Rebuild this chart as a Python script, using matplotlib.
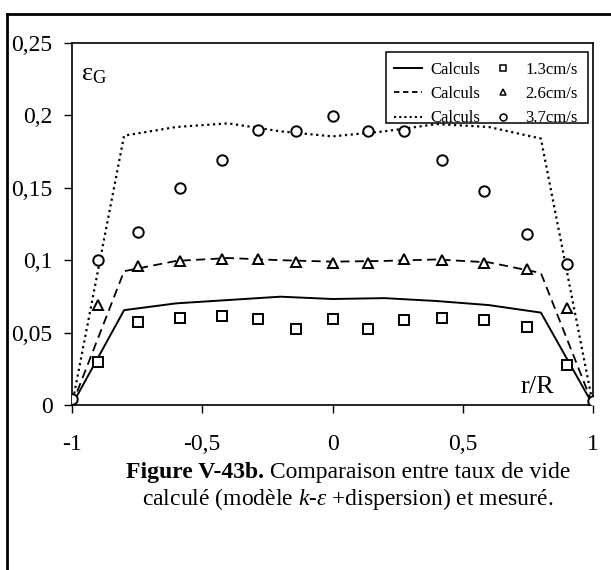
import numpy as np
import matplotlib
matplotlib.use("Agg")
import matplotlib.pyplot as plt
from matplotlib.lines import Line2D
from matplotlib.patches import Rectangle

plt.rcParams['font.family'] = ['Liberation Serif', 'DejaVu Serif']
plt.rcParams['mathtext.fontset'] = 'custom'
plt.rcParams['mathtext.rm'] = 'Liberation Serif'
plt.rcParams['mathtext.it'] = 'Liberation Serif:italic'

# valeurs
r_calc = [-1, -0.8, -0.6, -0.4, -0.2, 0, 0.2, 0.4, 0.6, 0.8, 1]
calc_13 = [0, 0.0655, 0.0702, 0.0725, 0.0748, 0.0732, 0.0738, 0.0718, 0.069, 0.0638, 0]
calc_26 = [0, 0.0924, 0.0995, 0.1015, 0.100, 0.099, 0.0995, 0.1005, 0.0985, 0.0912, 0]
calc_37 = [0, 0.186, 0.192, 0.1945, 0.189, 0.1855, 0.189, 0.194, 0.192, 0.184, 0]

r_mes = [-0.9, -0.745, -0.585, -0.425, -0.285, -0.14, 0, 0.135, 0.275, 0.42, 0.58, 0.745, 0.9]
mes_13 = [0.030, 0.057, 0.0598, 0.0614, 0.0593, 0.0524, 0.0591, 0.0526, 0.0586, 0.0598, 0.0586, 0.054, 0.0276]
mes_26 = [0.0694, 0.096, 0.0995, 0.1005, 0.101, 0.0989, 0.0982, 0.0984, 0.1005, 0.100, 0.0982, 0.0936, 0.0667]
r_mes_37 = [-1] + r_mes + [1]
mes_37 = [0.004, 0.100, 0.1195, 0.150, 0.1694, 0.1897, 0.189, 0.1993, 0.189, 0.189, 0.169, 0.148, 0.118, 0.0977, 0.003]

xticks = [-1, -0.5, 0, 0.5, 1]
xlabels = ['-1', '-0,5', '0', '0,5', '1']
yticks = [0, 0.05, 0.1, 0.15, 0.2, 0.25]
ylabels = ['0', '0,05', '0,1', '0,15', '0,2', '0,25']

fig = plt.figure(figsize=(6.11, 5.70), dpi=100)
ax = fig.add_axes([72/611, 1-405/570, 521/611, 362/570])

ax.plot(r_calc, calc_13, '-', color='black', lw=1.4)
ax.plot(r_calc, calc_26, '--', color='black', lw=1.3, dashes=(5, 3))
ax.plot(r_calc, calc_37, ':', color='black', lw=1.6, dashes=(1, 1.6))

mk = dict(ls='none', mfc='white', mec='black', mew=1.4, ms=7.5, clip_on=True, zorder=3)
ax.plot(r_mes, mes_13, marker='s', **mk)
ax.plot(r_mes, mes_26, marker='^', **mk)
ax.plot(r_mes_37, mes_37, marker='o', **mk)

ax.set_xlim(-1, 1)
ax.set_ylim(0, 0.25)
ax.set_xticks(xticks)
ax.set_xticklabels(xlabels)
ax.set_yticks(yticks)
ax.set_yticklabels(ylabels)
ax.tick_params(direction='out', length=6, width=1, labelsize=17)
ax.tick_params(axis='x', pad=15)
ax.tick_params(axis='y', pad=8)
for s in ax.spines.values():
    s.set_linewidth(1.2)

ax.text(-0.965, 0.2276, r'$\mathrm{ε}_{\mathrm{G}}$', fontsize=19, va='center', ha='left')
ax.text(0.72, 0.0125, 'r/R', fontsize=19, va='center', ha='left')

# cadre de la légende
ax.add_patch(Rectangle((0.603, 0.779), 0.387, 0.196, transform=ax.transAxes,
                       fill=True, facecolor='white', edgecolor='black', lw=1.1, zorder=4))
handles = [Line2D([], [], color='black', ls='-', lw=1.4),
           Line2D([], [], color='black', ls='--', lw=1.3, dashes=(3, 2)),
           Line2D([], [], color='black', ls=':', lw=1.5, dashes=(1, 1.5)),
           Line2D([], [], marker='s', ls='none', mfc='white', mec='black', mew=1.1, ms=5),
           Line2D([], [], marker='^', ls='none', mfc='white', mec='black', mew=1.1, ms=5),
           Line2D([], [], marker='o', ls='none', mfc='white', mec='black', mew=1.1, ms=5)]
labels = ['Calculs', 'Calculs', 'Calculs', '1.3cm/s', '2.6cm/s', '3.7cm/s']
leg = ax.legend(handles, labels, ncol=2, loc='upper right', bbox_to_anchor=(0.992, 0.978),
                frameon=False, fontsize=12, handlelength=1.7, handletextpad=0.5,
                columnspacing=0.5, labelspacing=0.5, borderpad=0.15)
leg.set_zorder(5)

# cadre extérieur
fig.add_artist(Line2D([7/611, 7/611], [0, 1-14/570], color='black', lw=2))
fig.add_artist(Line2D([7/611, 1], [1-14/570, 1-14/570], color='black', lw=2))

# légende de la figure
fig.canvas.draw()
r = fig.canvas.get_renderer()
t1 = fig.text(0, 1-478/570, 'Figure V-43b.', fontsize=17, fontweight='bold', va='baseline')
t2 = fig.text(0, 1-478/570, ' Comparaison entre taux de vide', fontsize=17, va='baseline')
w1 = t1.get_window_extent(r).width
w2 = t2.get_window_extent(r).width
x0 = 348 - (w1 + w2) / 2
t1.set_x(x0 / 611)
t2.set_x((x0 + w1) / 611)
fig.text(348/611, 1-505/570, r'calculé (modèle $\mathit{k}$-$\mathit{ε}$ +dispersion) et mesuré.',
         fontsize=17, ha='center', va='baseline')

fig.savefig('out.png', dpi=100)
